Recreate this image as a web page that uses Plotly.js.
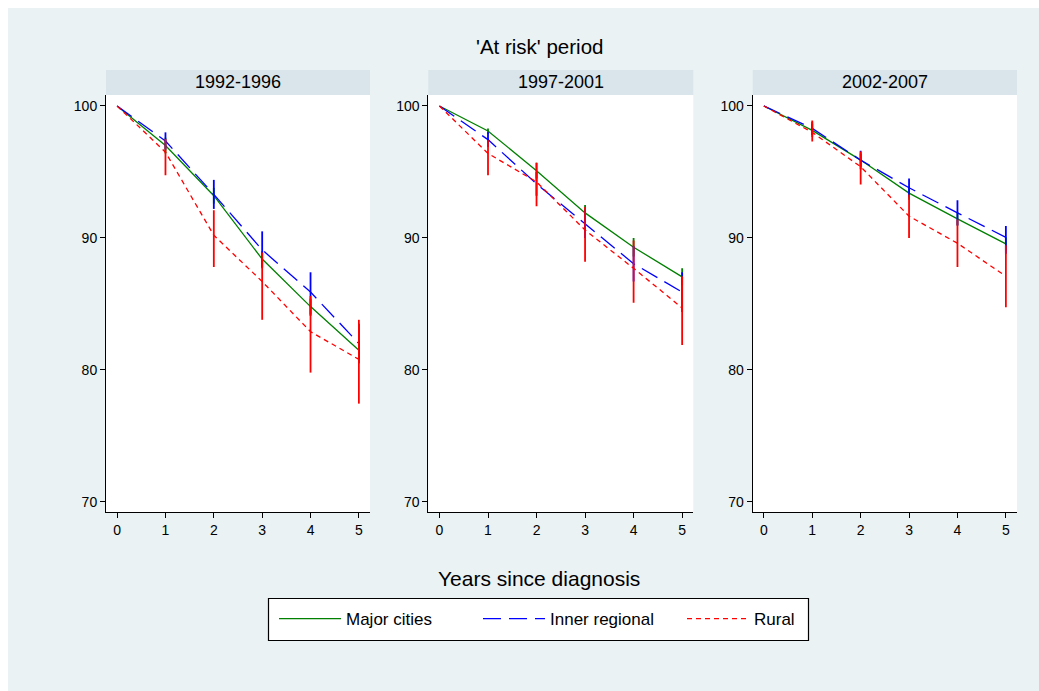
<!DOCTYPE html>
<html>
<head>
<meta charset="utf-8">
<script src="https://cdn.plot.ly/plotly-3.0.1.min.js"></script>
<style>
  html, body { margin: 0; padding: 0; background: #ffffff; }
  #chart { width: 1039px; height: 691px; }
</style>
</head>
<body>
<div id="chart"></div>
<script>
// ---- data ----
const years = [0, 1, 2, 3, 4, 5];
const periods = ['1992-1996', '1997-2001', '2002-2007'];
const seriesNames = ['Major cities', 'Inner regional', 'Rural'];

// estimates per period (rows = periods)
const majorEst = [
  [100, 97.0, 93.2, 88.4, 84.8, 81.5],
  [100, 98.1, 95.1, 91.9, 89.3, 87.05],
  [100, 98.15, 95.9, 93.4, 91.45, 89.55]
];
const majorLo = [
  [100, 96.4, 92.6, 87.8, 84.2, 80.8],
  [100, 97.9, 94.5, 91.3, 88.6, 86.4],
  [100, 97.65, 95.4, 92.9, 90.95, 89.05]
];
const majorHi = [
  [100, 97.6, 93.8, 89.0, 85.4, 82.2],
  [100, 98.3, 95.7, 92.5, 90.0, 87.7],
  [100, 98.65, 96.4, 93.9, 91.95, 90.05]
];

const innerEst = [
  [100, 97.35, 93.3, 89.1, 85.9, 82.0],
  [100, 97.45, 94.1, 91.1, 88.05, 85.9],
  [100, 98.3, 95.9, 93.8, 91.9, 90.05]
];
const innerLo = [
  [100, 96.7, 92.2, 87.7, 84.1, 80.5],
  [100, 96.9, 93.2, 90.0, 86.7, 84.4],
  [100, 97.8, 95.2, 93.1, 90.95, 88.8]
];
const innerHi = [
  [100, 98.0, 94.4, 90.5, 87.4, 83.5],
  [100, 98.0, 95.0, 92.2, 89.4, 87.4],
  [100, 98.8, 96.6, 94.5, 92.85, 90.9]
];

const ruralEst = [
  [100, 96.5, 90.2, 86.7, 82.9, 80.8],
  [100, 96.4, 94.25, 90.6, 87.7, 84.7],
  [100, 98.0, 95.4, 91.65, 89.6, 87.1]
];
const ruralLo = [
  [100, 94.75, 87.8, 83.8, 79.8, 77.45],
  [100, 94.75, 92.4, 88.2, 85.1, 81.9],
  [100, 97.3, 94.05, 90.0, 87.8, 84.75]
];
const ruralHi = [
  [100, 97.5, 92.1, 88.9, 85.6, 83.8],
  [100, 97.4, 95.7, 92.35, 89.8, 87.1],
  [100, 98.9, 96.55, 93.3, 91.4, 89.45]
];

const yTicks = [70, 80, 90, 100];
const xTicks = [0, 1, 2, 3, 4, 5];

// ---- styles ----
const FONT = '"Liberation Sans", Arial, Helvetica, sans-serif';
const seriesStyle = [
  {color: '#008000', dash: 'solid'},
  {color: '#0000ff', dash: '18px,8px'},
  {color: '#ff0000', dash: '5px,4px'}
];
const seriesData = [
  [majorEst, majorLo, majorHi],
  [innerEst, innerLo, innerHi],
  [ruralEst, ruralLo, ruralHi]
];

const W = 1039, H = 691;
const mL = 106, mR = 22, mT = 95, mB = 179;
const pw = W - mL - mR, ph = H - mT - mB;
const panelPx = [[106, 370], [428.3, 693.3], [752.7, 1017]];
const domains = panelPx.map(p => [(p[0] - mL) / pw, (p[1] - mL) / pw]);
const px2x = v => (v - mL) / pw;
const px2y = v => (H - mB - v) / ph;

const traces = [];
periods.forEach((per, pi) => {
  const xa = pi === 0 ? 'x' : 'x' + (pi + 1);
  const ya = pi === 0 ? 'y' : 'y' + (pi + 1);
  seriesData.forEach((sd, si) => {
    const est = sd[0][pi], lo = sd[1][pi], hi = sd[2][pi];
    traces.push({
      type: 'scatter', mode: 'lines',
      x: years, y: est,
      xaxis: xa, yaxis: ya,
      name: seriesNames[si],
      legendgroup: seriesNames[si],
      showlegend: pi === 0,
      line: {color: seriesStyle[si].color, width: 1.3, dash: seriesStyle[si].dash},
      error_y: {
        type: 'data', symmetric: false,
        array: hi.map((h, i) => h - est[i]),
        arrayminus: lo.map((l, i) => est[i] - l),
        color: seriesStyle[si].color, thickness: 1.8, width: 0
      },
      hoverinfo: 'x+y+name'
    });
  });
});

const layout = {
  width: W, height: H,
  margin: {l: mL, r: mR, t: mT, b: mB, pad: 0},
  paper_bgcolor: '#eaf2f3',
  plot_bgcolor: '#ffffff',
  font: {family: FONT, color: '#000000', size: 12},
  showlegend: true,
  legend: {
    orientation: 'h',
    x: px2x(274), xanchor: 'left',
    y: px2y(619), yanchor: 'middle',
    bgcolor: 'rgba(0,0,0,0)', borderwidth: 0,
    font: {family: FONT, size: 17, color: '#000000'},
    itemwidth: 62,
    entrywidth: 127,
    traceorder: 'normal'
  },
  shapes: [
    {type: 'rect', xref: 'paper', yref: 'paper', x0: px2x(0), x1: px2x(8), y0: px2y(H), y1: px2y(0), fillcolor: '#ffffff', line: {width: 0}, layer: 'above'},
    {type: 'rect', xref: 'paper', yref: 'paper', x0: px2x(0), x1: px2x(W), y0: px2y(8), y1: px2y(0), fillcolor: '#ffffff', line: {width: 0}, layer: 'above'},
    // legend frame
    {type: 'rect', xref: 'paper', yref: 'paper', x0: px2x(268.5), x1: px2x(808.5), y0: px2y(640.5), y1: px2y(598.5), fillcolor: '#ffffff', line: {width: 1.2, color: '#000000'}, layer: 'below'}
  ],
  annotations: [
    {text: "'At risk' period", xref: 'paper', yref: 'paper', x: px2x(539), y: px2y(46), xanchor: 'center', yanchor: 'middle', showarrow: false, font: {family: FONT, size: 20.5, color: '#000000'}},
    {text: 'Years since diagnosis', xref: 'paper', yref: 'paper', x: px2x(539), y: px2y(578), xanchor: 'center', yanchor: 'middle', showarrow: false, font: {family: FONT, size: 21, color: '#000000'}}
  ]
};

periods.forEach((per, pi) => {
  const sfx = pi === 0 ? '' : String(pi + 1);
  layout['xaxis' + sfx] = {
    domain: domains[pi], anchor: 'y' + sfx,
    range: [-0.23, 5.23], tickvals: xTicks, ticktext: xTicks.map(String),
    ticks: 'outside', ticklen: 5, tickwidth: 1, tickcolor: '#000000',
    showline: true, linecolor: '#000000', linewidth: 1,
    showgrid: false, zeroline: false, fixedrange: true,
    tickfont: {family: FONT, size: 14, color: '#000000'}
  };
  layout['yaxis' + sfx] = {
    domain: [0, 1], anchor: 'x' + sfx,
    range: [69.24, 100.83], tickvals: yTicks, ticktext: yTicks.map(String),
    ticks: 'outside', ticklen: 5, tickwidth: 1, tickcolor: '#000000',
    showline: true, linecolor: '#000000', linewidth: 1,
    showgrid: false, zeroline: false, fixedrange: true,
    tickfont: {family: FONT, size: 14, color: '#000000'}
  };
  // strip
  layout.shapes.push({
    type: 'rect', xref: 'paper', yref: 'paper',
    x0: domains[pi][0], x1: domains[pi][1],
    y0: 1, y1: px2y(70),
    fillcolor: '#d9e5eb', line: {width: 0}, layer: 'below'
  });
  layout.annotations.push({
    text: per, xref: 'paper', yref: 'paper',
    x: (domains[pi][0] + domains[pi][1]) / 2, y: px2y(82.5),
    xanchor: 'center', yanchor: 'middle', showarrow: false,
    font: {family: FONT, size: 18, color: '#000000'}
  });
});

Plotly.newPlot('chart', traces, layout, {displayModeBar: false, staticPlot: false});
</script>
</body>
</html>
